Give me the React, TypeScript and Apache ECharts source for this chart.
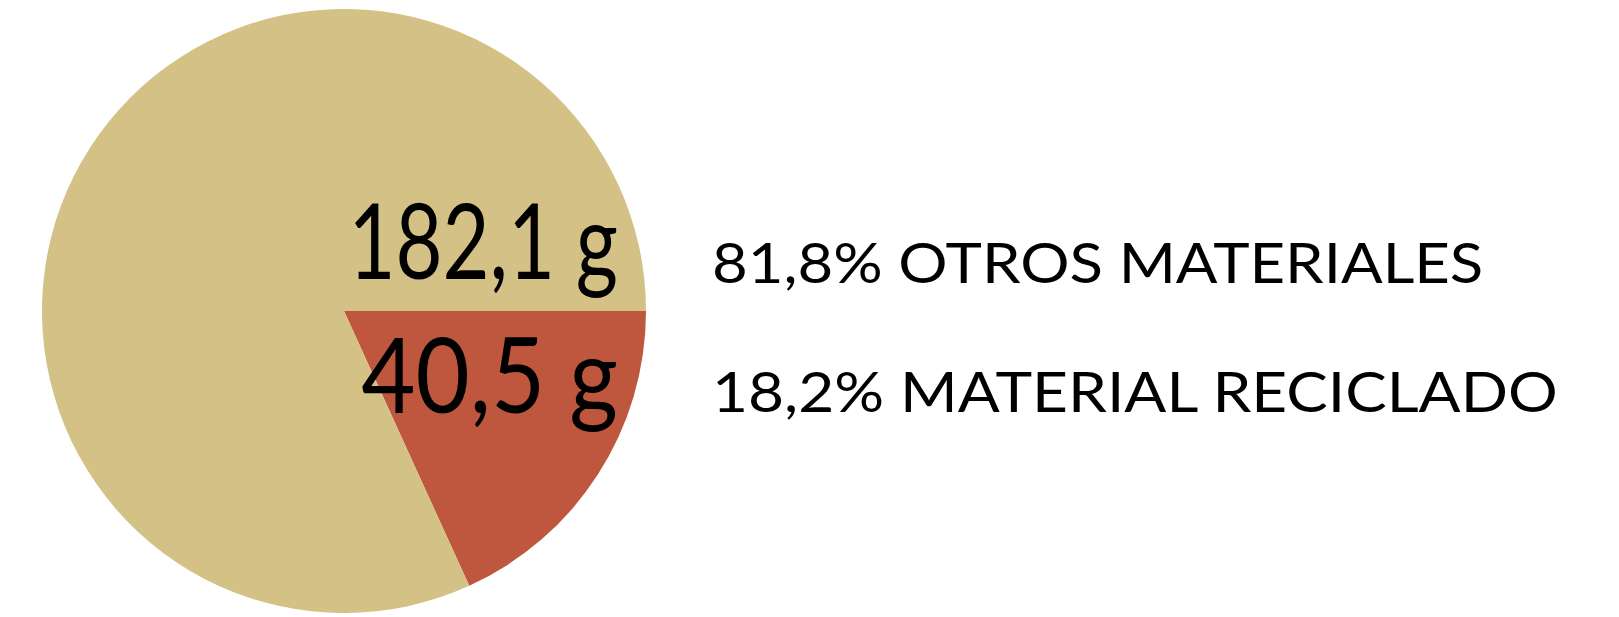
import React, { useEffect, useRef } from "react";
import * as echarts from "echarts";

const categories = ["MATERIAL RECICLADO", "OTROS MATERIALES"];
const grams = [40.5, 182.1];
const gramLabels = ["40,5 g", "182,1 g"];
const percentLabels = ["18,2%", "81,8%"];
const colors = ["#BF573E", "#D4C186"];

export default function App() {
  const ref = useRef<HTMLDivElement>(null);
  useEffect(() => {
    document.body.style.margin = "0";
    const chart = echarts.init(ref.current!, null, { renderer: "svg" });
    const font = "Lato, 'DejaVu Sans', sans-serif";
    chart.setOption({
      animation: false,
      backgroundColor: "#ffffff",
      series: [
        {
          type: "pie",
          center: [344, 311],
          radius: [0, 302],
          startAngle: 0,
          clockwise: true,
          label: { show: false },
          labelLine: { show: false },
          silent: true,
          z: 1,
          itemStyle: { borderWidth: 0 },
          data: categories.map((c, i) => ({
            name: c,
            value: grams[i],
            itemStyle: { color: colors[i] },
          })),
        },
      ],
      graphic: {
        elements: [
          {
            type: "text",
            z: 100,
            x: 618,
            y: 187,
            scaleX: 0.78,
            style: { text: gramLabels[1], font: `400 104px ${font}`, fill: "#000", align: "right", verticalAlign: "top" },
          },
          {
            type: "text",
            z: 100,
            x: 618,
            y: 321,
            scaleX: 0.9,
            style: { text: gramLabels[0], font: `400 104px ${font}`, fill: "#000", align: "right", verticalAlign: "top" },
          },
          {
            type: "text",
            z: 100,
            x: 712,
            y: 234,
            scaleX: 1.1,
            style: {
              text: `${percentLabels[1]} ${categories[1]}`,
              font: `400 56px ${font}`,
              fill: "#000",
              verticalAlign: "top",
            },
          },
          {
            type: "text",
            z: 100,
            x: 712,
            y: 363,
            scaleX: 1.11,
            style: {
              text: `${percentLabels[0]} ${categories[0]}`,
              font: `400 56px ${font}`,
              fill: "#000",
              verticalAlign: "top",
            },
          },
        ],
      },
    });
    return () => chart.dispose();
  }, []);
  return <div ref={ref} style={{ width: 1619, height: 617 }} />;
}
